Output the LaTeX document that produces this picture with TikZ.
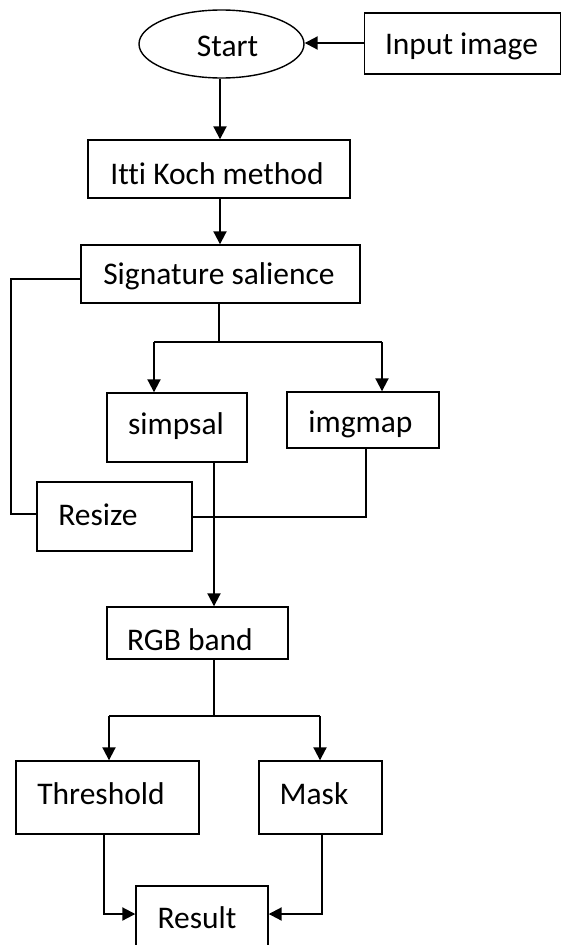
\documentclass[tikz,border=0pt]{standalone}
\usepackage{fontspec}
\setmainfont{Carlito}[Ligatures={NoCommon}]
\usetikzlibrary{arrows.meta,shapes.geometric}
\begin{document}
\begin{tikzpicture}[x=1pt,y=-1pt,
  box/.style={draw, line width=1.4pt, inner sep=0pt, minimum width=#1},
  conn/.style={line width=2pt},
  thin/.style={line width=1.3pt},
  arr/.style={line width=2pt, -{Triangle[length=13pt,width=13pt]}},
  txt/.style={anchor=base, font=\fontsize{31.5}{36}\selectfont}]
\useasboundingbox (0,0) rectangle (562,945);
\begin{scope}
\clip (0,0) rectangle (562,945);
% nodes
\node[ellipse, draw, line width=1.4pt, minimum width=165pt, minimum height=68pt, inner sep=0pt,
  label={[txt, xshift=6pt, yshift=-2pt]center:Start}] (start) at (221.5,44) {};
\node[box=196pt, minimum height=61pt,
  label={[txt, xshift=-1pt, yshift=-3pt]center:Input image}] (inp) at (462.5,43.5) {};
\node[box=262pt, minimum height=58pt,
  label={[txt, xshift=-2pt, yshift=-5pt]center:Itti Koch method}] (itti) at (219,169) {};
\node[box=279pt, minimum height=58pt,
  label={[txt, xshift=-1.5pt, yshift=-2pt]center:Signature salience}] (sig) at (220.5,274) {};
\node[box=140pt, minimum height=69pt,
  label={[txt, xshift=-1pt, yshift=1.5pt]center:simpsal}] (simp) at (177,427.5) {};
\node[box=152pt, minimum height=56pt,
  label={[txt, xshift=-2.5pt, yshift=-4pt]center:imgmap}] (img) at (363,420) {};
\node[box=155pt, minimum height=69pt,
  label={[txt, xshift=-16.5pt, yshift=1.5pt]center:Resize}] (res) at (114.5,516.5) {};
\node[box=181pt, minimum height=52pt,
  label={[txt, xshift=-7.5pt, yshift=-7pt]center:RGB band}] (rgb) at (197.5,633) {};
\node[box=183pt, minimum height=73pt,
  label={[txt, xshift=-6.5pt, yshift=3.5pt]center:Threshold}] (thr) at (107.5,797.5) {};
\node[box=123pt, minimum height=73pt,
  label={[txt, xshift=-6.5pt, yshift=3.5pt]center:Mask}] (mask) at (320.5,797.5) {};
\node[box=132pt, minimum height=80pt,
  label={[txt, xshift=-5pt, yshift=8pt]center:Result}] (result) at (202,926) {};
% coordinates
\coordinate (sigL) at (11,279);
\coordinate (resL) at (11,514);
\coordinate (splitA) at (219,342);
\coordinate (splitAL) at (154,342);
\coordinate (splitAR) at (382,342);
\coordinate (imgB) at (366,517);
\coordinate (splitB) at (214,716);
\coordinate (splitBL) at (109,716);
\coordinate (splitBR) at (320,716);
\coordinate (thrB) at (104,914);
\coordinate (maskB) at (322,914);
\coordinate (axis) at (220,0);
% connectors
\draw[arr] (inp.west |- 0,43) -- (start.east |- 0,43);
\draw[arr] (start.south -| axis) -- (itti.north -| axis);
\draw[arr] (itti.south -| axis) -- (sig.north -| axis);
\draw[thin] (sig.west |- sigL) -- (sigL) -- (resL) -- (res.west |- resL);
\draw[thin] (sig.south -| splitA) -- (splitA);
\draw[conn] (splitAL) -- (splitAR);
\draw[arr] (splitAL) -- (simp.north -| splitAL);
\draw[arr] (splitAR) -- (img.north -| splitAR);
\draw[thin] (img.south -| imgB) -- (imgB) -- (res.east |- imgB);
\draw[arr] (simp.south -| splitB) -- (rgb.north -| splitB);
\draw[thin] (rgb.south -| splitB) -- (splitB);
\draw[conn] (splitBL) -- (splitBR);
\draw[arr] (splitBL) -- (thr.north -| splitBL);
\draw[arr] (splitBR) -- (mask.north -| splitBR);
\draw[arr] (thr.south -| thrB) -- (thrB) -- (result.west |- thrB);
\draw[arr] (mask.south -| maskB) -- (maskB) -- (result.east |- maskB);
\end{scope}
\end{tikzpicture}
\end{document}
